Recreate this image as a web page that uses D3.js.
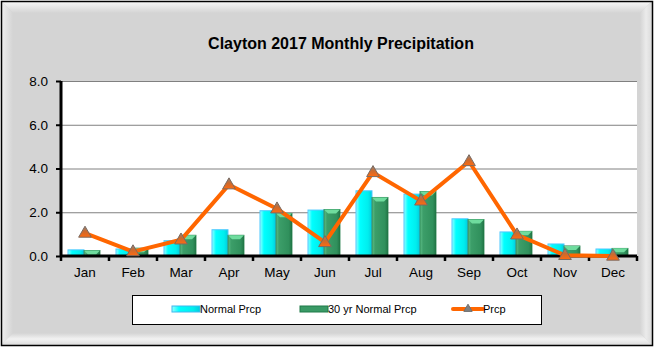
<!DOCTYPE html>
<html>
<head>
<meta charset="utf-8">
<script src="https://cdn.jsdelivr.net/npm/d3@7"></script>
<style>
  body { margin: 0; background: #fff; }
  text { font-family: "Liberation Sans", Arial, sans-serif; }
</style>
</head>
<body>
<div id="chart"></div>
<script>
// monthly data (inches)
var months = ["Jan","Feb","Mar","Apr","May","Jun","Jul","Aug","Sep","Oct","Nov","Dec"];
var normalPrcp = [0.28, 0.32, 0.7, 1.2, 2.07, 2.1, 2.98, 2.83, 1.7, 1.1, 0.55, 0.32];
var normal30 = [0.25, 0.36, 0.95, 0.95, 1.95, 2.13, 2.68, 2.95, 1.67, 1.13, 0.46, 0.35];
var prcp = [1.05, 0.2, 0.74, 3.26, 2.16, 0.62, 3.82, 2.52, 4.32, 0.97, 0.03, 0.0];
var yTicks = [0, 2, 4, 6, 8];

var W = 657, H = 348;
var margin = {top: 81, right: 20, bottom: 92, left: 61},
    width = 637 - margin.left,
    height = 256 - margin.top;

var svg = d3.select("#chart").append("svg")
    .attr("width", W).attr("height", H);

var defs = svg.append("defs");
function grad(id, stops, vertical) {
  var g = defs.append("linearGradient").attr("id", id)
    .attr("x1", 0).attr("y1", 0)
    .attr("x2", vertical ? 0 : 1).attr("y2", vertical ? 1 : 0);
  stops.forEach(function(s) {
    g.append("stop").attr("offset", s[0]).attr("stop-color", s[1]);
  });
}
grad("cyanG", [[0, "#9ff"], [0.25, "#0ff"], [0.75, "#0ee"], [1, "#0cd"]]);
grad("greenG", [[0, "#5fbf88"], [0.2, "#3c9e69"], [0.8, "#30905c"], [1, "#227446"]]);
grad("triG", [[0, "#888"], [0.45, "#c86a30"], [1, "#ff6a10"]], true);
grad("topBevel", [[0, "#fafafa"], [1, "#d4d4d4"]], true);
grad("leftBevel", [[0, "#f0f0f0"], [1, "#d4d4d4"]]);
grad("botBevel", [[0, "#d4d4d4"], [0.5, "#f2f2f2"], [1, "#dcdcdc"]], true);
grad("rightBevel", [[0, "#d4d4d4"], [0.5, "#ebebeb"], [1, "#dadada"]]);

// frame with bevel
var fx0 = 1, fy0 = 1, fx1 = 652, fy1 = 345, bw = 12;
svg.append("rect").attr("x", fx0).attr("y", fy0)
  .attr("width", fx1 - fx0).attr("height", fy1 - fy0).attr("fill", "#d4d4d4");
svg.append("polygon").attr("fill", "url(#topBevel)")
  .attr("points", [[fx0,fy0],[fx1,fy0],[fx1-bw,fy0+bw],[fx0+bw,fy0+bw]].join(" "));
svg.append("polygon").attr("fill", "url(#leftBevel)")
  .attr("points", [[fx0,fy0],[fx0+bw,fy0+bw],[fx0+bw,fy1-bw],[fx0,fy1]].join(" "));
svg.append("polygon").attr("fill", "url(#botBevel)")
  .attr("points", [[fx0,fy1],[fx0+bw,fy1-bw],[fx1-bw,fy1-bw],[fx1,fy1]].join(" "));
svg.append("polygon").attr("fill", "url(#rightBevel)")
  .attr("points", [[fx1,fy0],[fx1,fy1],[fx1-bw,fy1-bw],[fx1-bw,fy0+bw]].join(" "));
svg.append("rect").attr("x", fx0 + 0.5).attr("y", fy0 + 0.5)
  .attr("width", fx1 - fx0).attr("height", fy1 - fy0)
  .attr("fill", "none").attr("stroke", "#000").attr("stroke-width", 1.5);

// title
svg.append("text").attr("x", 341).attr("y", 49)
  .attr("text-anchor", "middle").attr("font-size", "16px").attr("font-weight", "bold")
  .text("Clayton 2017 Monthly Precipitation");

var g = svg.append("g")
  .attr("transform", "translate(" + margin.left + "," + margin.top + ")");

var x = d3.scaleBand().domain(months).range([0, width]);
var y = d3.scaleLinear().domain([0, 8]).range([height, 0]);

g.append("rect").attr("width", width).attr("height", height).attr("fill", "#fff");

// gridlines
g.append("g").selectAll("line").data(yTicks.filter(function(d) { return d > 0; }))
  .enter().append("line")
    .attr("x1", 0).attr("x2", width)
    .attr("y1", function(d) { return y(d) + 0.5; })
    .attr("y2", function(d) { return y(d) + 0.5; })
    .attr("stroke", "#808080").attr("stroke-width", 1);

// bars
var bw2 = 16;
function cx(d) { return x(d) + x.bandwidth() / 2; }
g.append("g").selectAll("rect").data(months).enter().append("rect")
  .attr("x", function(d) { return cx(d) - bw2 - 1; })
  .attr("y", function(d, i) { return y(normalPrcp[i]); })
  .attr("width", bw2)
  .attr("height", function(d, i) { return height - y(normalPrcp[i]); })
  .attr("fill", "url(#cyanG)").attr("stroke", "#4cc8ff").attr("stroke-width", 1);
g.append("g").selectAll("rect").data(months).enter().append("rect")
  .attr("x", function(d) { return cx(d) - 1; })
  .attr("y", function(d, i) { return y(normal30[i]); })
  .attr("width", bw2)
  .attr("height", function(d, i) { return height - y(normal30[i]); })
  .attr("fill", "url(#greenG)").attr("stroke", "#1f7a48").attr("stroke-width", 0.8);
// bevel top on green bars
g.append("g").selectAll("path").data(months).enter().append("path")
  .attr("d", function(d, i) {
    var x0 = cx(d) - 1, y0 = y(normal30[i]);
    return "M" + x0 + "," + y0 + "h" + bw2 + "l-4,4h-" + (bw2 - 8) + "z";
  })
  .attr("fill", "#6fdc9e");

// axes
var yAxis = g.append("g")
  .call(d3.axisLeft(y).tickValues(yTicks).tickSize(5).tickPadding(8)
    .tickFormat(d3.format(".1f")));
yAxis.select(".domain").attr("stroke", "#000").attr("stroke-width", 3)
  .attr("d", "M0," + (height + 1) + "V0");
yAxis.selectAll(".tick line").attr("stroke", "#000").attr("stroke-width", 2);
yAxis.selectAll("text").attr("font-size", "13.5px").attr("fill", "#000")
  .attr("font-family", "Liberation Sans, Arial, sans-serif");

var xAxis = g.append("g").attr("transform", "translate(0," + height + ")")
  .call(d3.axisBottom(x).tickSize(0).tickPadding(11));
xAxis.select(".domain").attr("stroke", "#000").attr("stroke-width", 3)
  .attr("d", "M0,0H" + width);
xAxis.selectAll("text").attr("font-size", "13.5px").attr("fill", "#000")
  .attr("font-family", "Liberation Sans, Arial, sans-serif");
xAxis.append("g").selectAll("line").data(d3.range(months.length + 1))
  .enter().append("line")
    .attr("x1", function(d) { return d * x.step(); })
    .attr("x2", function(d) { return d * x.step(); })
    .attr("y1", 0).attr("y2", 5)
    .attr("stroke", "#000").attr("stroke-width", 2.5);

// precipitation line
var line = d3.line()
  .x(function(d, i) { return cx(months[i]); })
  .y(function(d) { return y(d); });
g.append("path").datum(prcp).attr("d", line)
  .attr("fill", "none").attr("stroke", "#ff6600").attr("stroke-width", 4)
  .attr("stroke-linejoin", "round");

var tri = d3.symbol().type(d3.symbolTriangle).size(70);
g.append("g").selectAll("path").data(prcp).enter().append("path")
  .attr("d", tri)
  .attr("transform", function(d, i) {
    return "translate(" + cx(months[i]) + "," + (y(d) + 0.5) + ")";
  })
  .attr("fill", "url(#triG)").attr("stroke", "#7a6a60").attr("stroke-width", 1);

// legend
var leg = svg.append("g");
leg.append("rect").attr("x", 132.5).attr("y", 295.5).attr("width", 409).attr("height", 29)
  .attr("fill", "#fff").attr("stroke", "#000").attr("stroke-width", 1);
var legendNames = ["Normal Prcp", "30 yr Normal Prcp", "Prcp"];
var legX = [172, 300, 453];
leg.append("rect").attr("x", legX[0]).attr("y", 306).attr("width", 28).attr("height", 6)
  .attr("fill", "url(#cyanG)").attr("stroke", "#3fb8ee").attr("stroke-width", 1);
leg.append("rect").attr("x", legX[1]).attr("y", 306).attr("width", 28).attr("height", 6)
  .attr("fill", "#3a9a66").attr("stroke", "#1f7a48").attr("stroke-width", 1);
leg.append("line").attr("x1", legX[2]).attr("x2", legX[2] + 30).attr("y1", 309).attr("y2", 309)
  .attr("stroke", "#ff6600").attr("stroke-width", 4).attr("stroke-linecap", "round");
leg.append("path").attr("d", d3.symbol().type(d3.symbolTriangle).size(30))
  .attr("transform", "translate(" + (legX[2] + 15) + ",309)")
  .attr("fill", "#808080").attr("stroke", "#707070");
leg.selectAll("text.lt").data(legendNames).enter().append("text")
  .attr("x", function(d, i) { return legX[i] + (i === 2 ? 30 : 28); })
  .attr("y", 313)
  .attr("font-size", "11px")
  .text(function(d) { return d; });
</script>
</body>
</html>
